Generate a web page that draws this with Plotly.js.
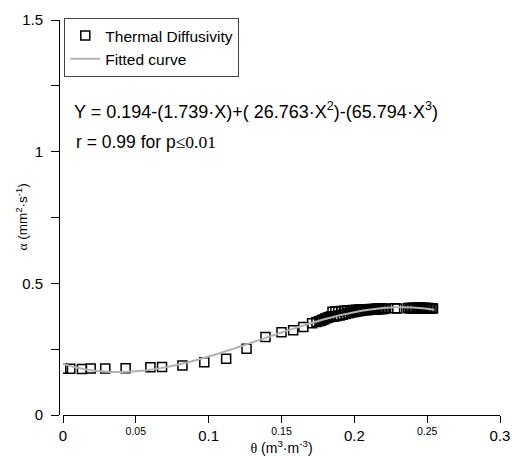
<!DOCTYPE html>
<html>
<head>
<meta charset="utf-8">
<script src="https://cdn.plot.ly/plotly-3.0.1.min.js"></script>
<style>html,body{margin:0;padding:0;background:#fff;}#chart{width:512px;height:456px;}</style>
</head>
<body>
<div id="chart"></div>
<script>
const thetaSparse = [0.000, 0.005, 0.013, 0.019, 0.029, 0.043, 0.060, 0.068, 0.082, 0.097, 0.112, 0.126, 0.139, 0.150, 0.158, 0.165, 0.171, 0.174];
const alphaSparse = [0.176, 0.176, 0.175, 0.177, 0.177, 0.178, 0.181, 0.182, 0.188, 0.200, 0.214, 0.252, 0.296, 0.314, 0.322, 0.334, 0.348, 0.353];

const thetaDenseA = [0.176, 0.177, 0.178, 0.179, 0.180, 0.181, 0.182, 0.183, 0.184, 0.185, 0.186, 0.187, 0.188, 0.189, 0.190, 0.191, 0.192, 0.193, 0.194, 0.195, 0.196, 0.197, 0.198, 0.199, 0.200, 0.201, 0.202, 0.203, 0.204, 0.205, 0.206, 0.207, 0.208, 0.209, 0.210, 0.211, 0.212, 0.213, 0.214, 0.215, 0.216, 0.217, 0.218, 0.219, 0.220, 0.221];
const alphaDenseA = [0.356, 0.358, 0.361, 0.363, 0.366, 0.368, 0.370, 0.372, 0.374, 0.392, 0.373, 0.393, 0.376, 0.394, 0.378, 0.395, 0.381, 0.396, 0.384, 0.397, 0.386, 0.398, 0.389, 0.399, 0.391, 0.400, 0.393, 0.401, 0.395, 0.401, 0.397, 0.402, 0.398, 0.402, 0.399, 0.403, 0.400, 0.403, 0.401, 0.404, 0.401, 0.404, 0.402, 0.404, 0.403, 0.404];

const thetaIsolated = [0.228, 0.2295];
const alphaIsolated = [0.405, 0.404];

const thetaDenseB = [0.237, 0.238, 0.239, 0.240, 0.241, 0.242, 0.243, 0.244, 0.245, 0.246, 0.247, 0.248, 0.249, 0.250, 0.251, 0.252, 0.253, 0.254];
const alphaDenseB = [0.406, 0.404, 0.407, 0.405, 0.407, 0.404, 0.407, 0.405, 0.408, 0.404, 0.407, 0.405, 0.407, 0.404, 0.406, 0.404, 0.405, 0.404];

// Fitted curve values (Y = 0.194-1.739X+26.763X^2-65.794X^3), tabulated
const thetaFit = [0.000, 0.010, 0.020, 0.030, 0.040, 0.050, 0.060, 0.070, 0.080, 0.090, 0.100, 0.110, 0.120, 0.130, 0.140, 0.150, 0.160, 0.170, 0.180, 0.190, 0.200, 0.210, 0.220, 0.230, 0.240, 0.250, 0.255];
const alphaFit = [0.1940, 0.1792, 0.1694, 0.1641, 0.1631, 0.1657, 0.1718, 0.1808, 0.1925, 0.2063, 0.2219, 0.2390, 0.2570, 0.2757, 0.2946, 0.3133, 0.3314, 0.3486, 0.3644, 0.3785, 0.3904, 0.3997, 0.4062, 0.4093, 0.4087, 0.4039, 0.3999];

const xTickVals = [0, 0.05, 0.1, 0.15, 0.2, 0.25, 0.3];
const xTickText = ['0', '<sup>0.05</sup>', '0.1', '<sup>0.15</sup>', '0.2', '<sup>0.25</sup>', '0.3'];
const yTickVals = [0, 0.25, 0.5, 0.75, 1, 1.25, 1.5];
const yTickText = ['0', '', '0.5', '', '1', '', '1.5'];

const seriesNames = ['Thermal Diffusivity', 'Fitted curve'];
const equationText = 'Y = 0.194-(1.739·X)+( 26.763·X<sup>2</sup>)-(65.794·X<sup>3</sup>)';
const statText = 'r = 0.99 for p<span style="font-family:Liberation Serif,Times New Roman,serif">≤0.01</span>';
const SERIF_INLINE = 'font-family:Liberation Serif,Times New Roman,serif';
const xTitleText = '<span style="' + SERIF_INLINE + '">θ</span> (m<sup>3</sup>·m<sup>-3</sup>)';
const yTitleText = '<span style="' + SERIF_INLINE + '">α</span> (mm<sup>2</sup>·s<sup>-1</sup>)';

const thetaAll = thetaSparse.concat(thetaDenseA, thetaIsolated, thetaDenseB);
const alphaAll = alphaSparse.concat(alphaDenseA, alphaIsolated, alphaDenseB);

const SANS = "'Liberation Sans', Arial, Helvetica, sans-serif";

const traces = [
  {
    x: thetaAll, y: alphaAll, type: 'scatter', mode: 'markers', name: seriesNames[0],
    marker: {symbol: 'square-open', size: 9, color: '#000', line: {width: 1.5, color: '#000'}}
  },
  {
    x: thetaFit, y: alphaFit, type: 'scatter', mode: 'lines', name: seriesNames[1],
    line: {color: '#b3b3b3', width: 2, shape: 'spline'}
  }
];

const layout = {
  width: 512, height: 456,
  margin: {l: 59, r: 12, t: 20, b: 41, pad: 0},
  paper_bgcolor: '#fff', plot_bgcolor: '#fff',
  font: {family: SANS, color: '#000', size: 14},
  showlegend: true,
  legend: {
    x: 0.012, y: 1.005, xanchor: 'left', yanchor: 'top',
    bgcolor: '#fff', bordercolor: '#444', borderwidth: 1,
    font: {family: SANS, size: 15.5, color: '#000'},
    tracegroupgap: 0
  },
  xaxis: {
    range: [0, 0.3], domain: [4/441, 1],
    tickmode: 'array', tickvals: xTickVals, ticktext: xTickText,
    showline: true, linecolor: '#000', linewidth: 1,
    ticks: 'outside', ticklen: 7, tickcolor: '#000', tickwidth: 1,
    showgrid: false, zeroline: false,
    tickfont: {family: SANS, size: 15, color: '#000'},
    title: {text: xTitleText, font: {family: SANS, size: 14, color: '#000'}, standoff: 0}
  },
  yaxis: {
    range: [0, 1.5], anchor: 'free', position: 0,
    tickmode: 'array', tickvals: yTickVals, ticktext: yTickText,
    showline: true, linecolor: '#000', linewidth: 1,
    ticks: 'outside', ticklen: 8, tickcolor: '#000', tickwidth: 1,
    ticklabelstandoff: 5,
    showgrid: false, zeroline: false,
    tickfont: {family: SANS, size: 15, color: '#000'}
  },
  annotations: [
    {xref: 'paper', yref: 'paper', x: -0.086, y: 0.5, xanchor: 'center', yanchor: 'middle',
     textangle: -90, text: yTitleText, showarrow: false, font: {family: SANS, size: 13.5, color: '#000'}},
    {xref: 'paper', yref: 'paper', x: 0.03, y: 0.772, xanchor: 'left', yanchor: 'middle',
     text: equationText, showarrow: false, font: {family: SANS, size: 18, color: '#000'}},
    {xref: 'paper', yref: 'paper', x: 0.035, y: 0.69, xanchor: 'left', yanchor: 'middle',
     text: statText, showarrow: false, font: {family: SANS, size: 17.5, color: '#000'}}
  ]
};

Plotly.newPlot('chart', traces, layout, {displayModeBar: false, staticPlot: true});
</script>
</body>
</html>
